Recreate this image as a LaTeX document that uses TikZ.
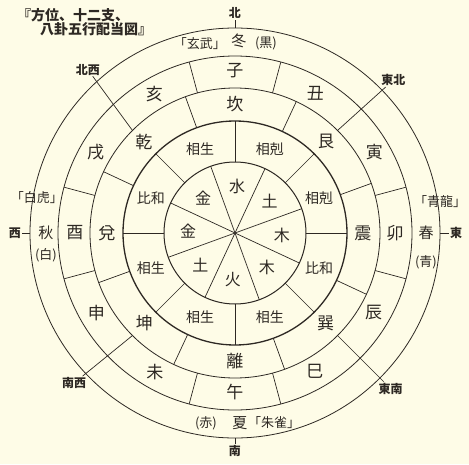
\documentclass[tikz,border=0pt]{standalone}
\usepackage{fontspec}
\setmainfont{Noto Sans CJK JP}
\definecolor{paper}{RGB}{254,252,231}
\definecolor{ink}{RGB}{45,40,35}

\tikzset{
  ring/.style={draw=ink, line width=0.8pt},
  spoke/.style={draw=ink, line width=0.7pt},
  shi/.style={font=\fontsize{17}{17}\selectfont, text=ink, inner sep=0pt},
  gua/.style={font=\fontsize{17}{17}\selectfont, text=ink, inner sep=0pt},
  rel/.style={font=\fontsize{14}{14}\selectfont, text=ink, inner sep=0pt},
  elem/.style={font=\fontsize{16}{16}\selectfont, text=ink, inner sep=0pt},
  season/.style={font=\fontsize{15}{15}\selectfont, text=ink, inner sep=0pt},
  beast/.style={font=\fontsize{13}{13}\selectfont, text=ink, inner sep=0pt},
  dirlabel/.style={font=\fontsize{12}{12}\selectfont\bfseries, text=ink, inner sep=1pt},
  titletext/.style={font=\fontsize{14}{14}\selectfont\bfseries, text=ink, inner sep=0pt, anchor=west},
}

\begin{document}
\begin{tikzpicture}[x=1pt,y=1pt]
	\fill[paper] (-235,-231) rectangle (234,233);
	\useasboundingbox (-235,-231) rectangle (234,233);

	% title
	\node[titletext] (title1) at (-218,218) {『方位、十二支、};
	\node[titletext] (title2) at (-195,204) {八卦五行配当図』};

	% circles
	\draw[ring, line width=1pt] (0,0) circle (71);
	\draw[ring, line width=1.3pt] (0,0) circle (112);
	\draw[ring] (0,0) circle (145);
	\draw[ring] (0,0) circle (177);
	\draw[ring] (0,0) circle (205);

	% dividers
	\foreach \a in {20,65,...,335} \draw[spoke] (0,0) -- (\a:71);
	\foreach \a in {0,45,...,315} \draw[spoke] (\a:71) -- (\a:112);
	\foreach \a in {20,65,...,335} \draw[spoke] (\a:112) -- (\a:145);
	\foreach \a in {15,75,105,165,195,255,285,345} \draw[spoke] (\a:145) -- (\a:177);

	% five elements
	\node[elem] (water) at (87.5:47) {水};
	\node[elem] (earthA) at (42.5:47) {土};
	\node[elem] (woodA) at (-2.5:47) {木};
	\node[elem] (woodB) at (-47.5:47) {木};
	\node[elem] (fire) at (-92.5:47) {火};
	\node[elem] (earthB) at (-137.5:47) {土};
	\node[elem] (metalA) at (177.5:47) {金};
	\node[elem] (metalB) at (132.5:47) {金};

	% relations
	\node[rel] (rNNW) at (112.5:91) {相生};
	\node[rel] (rNNE) at (67.5:91) {相剋};
	\node[rel] (rENE) at (22.5:91) {相剋};
	\node[rel] (rESE) at (-22.5:91) {比和};
	\node[rel] (rSSE) at (-67.5:91) {相生};
	\node[rel] (rSSW) at (-112.5:91) {相生};
	\node[rel] (rWSW) at (-157.5:91) {相生};
	\node[rel] (rWNW) at (157.5:91) {比和};

	% eight trigrams
	\node[gua] (kan) at (90:129) {坎};
	\node[gua] (gen) at (45:129) {艮};
	\node[gua] (zhen) at (0:128) {震};
	\node[gua] (xun) at (-45:128) {巽};
	\node[gua] (li) at (-90:128) {離};
	\node[gua] (kun) at (-135:128) {坤};
	\node[gua] (dui) at (180:128) {兌};
	\node[gua] (qian) at (135:129) {乾};

	% twelve branches
	\node[shi] (zi) at (90:162) {子};
	\node[shi] (chou) at (60:161) {丑};
	\node[shi] (yin) at (30:161) {寅};
	\node[shi] (mao) at (0:160) {卯};
	\node[shi] (chen) at (-30:160) {辰};
	\node[shi] (si) at (-60:160) {巳};
	\node[shi] (wu) at (-90:159) {午};
	\node[shi] (wei) at (-120:160) {未};
	\node[shi] (shen) at (-150:160) {申};
	\node[shi] (you) at (180:160) {酉};
	\node[shi] (xu) at (150:161) {戌};
	\node[shi] (hai) at (120:161) {亥};

	% seasons, colours, guardians
	\node[season] (winter) at (4,192) {冬};
	\node[beast, anchor=east] (xuanwu) at (-9,189) {「玄武」};
	\node[beast] (black) at (31,190) {(黒)};
	\node[season] (spring) at (191,0) {春};
	\node[beast] (qinglong) at (205,31) {「青龍」};
	\node[beast] (blue) at (191,-29) {(青)};
	\node[season] (summer) at (5,-190) {夏};
	\node[beast] (red) at (-29,-190) {(赤)};
	\node[beast, anchor=west] (zhuque) at (13,-190) {「朱雀」};
	\node[season] (autumn) at (-189,0) {秋};
	\node[beast] (baihu) at (-198,35) {「白虎」};
	\node[beast] (white) at (-189,-22) {(白)};

	% directions
	\node[dirlabel] (N) at (0,220) {北};
	\node[dirlabel] (E) at (221,0) {東};
	\node[dirlabel] (S) at (0,-218) {南};
	\node[dirlabel] (W) at (-220,0) {西};
	\node[dirlabel] (NE) at (44:220) {東北};
	\node[dirlabel] (SE) at (-45:220) {東南};
	\node[dirlabel] (SW) at (-137:220) {南西};
	\node[dirlabel] (NW) at (132:220) {北西};
	\draw[spoke] (90:205) -- (N);
	\draw[spoke] (0:205) -- (E);
	\draw[spoke] (-90:205) -- (S);
	\draw[spoke] (180:205) -- (W);
	\draw[spoke] (45:145) -- (NE);
	\draw[spoke] (-45:145) -- (SE);
	\draw[spoke] (-135:145) -- (SW);
	\draw[spoke] (135:145) -- (NW);
\end{tikzpicture}
\end{document}
